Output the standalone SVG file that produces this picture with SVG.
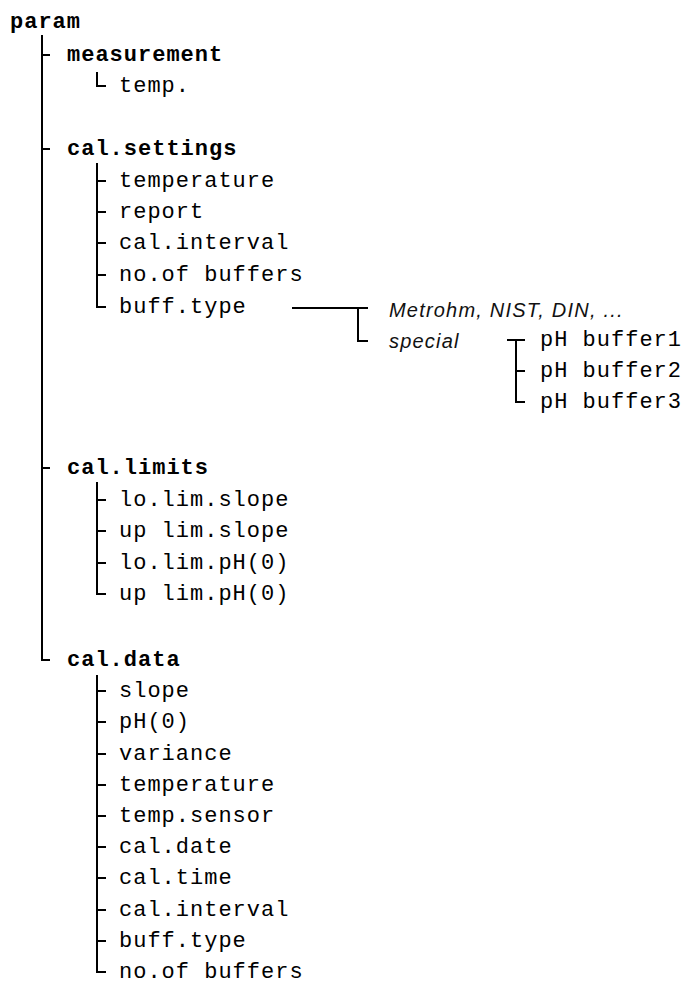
<svg xmlns="http://www.w3.org/2000/svg" width="687" height="990" viewBox="0 0 687 990">
<style>
.t{font-family:"Liberation Mono",monospace;font-size:22px;letter-spacing:1px;fill:#000}
.b{font-weight:bold}
.i{font-family:"Liberation Sans",Arial,sans-serif;font-style:italic;font-size:20px;letter-spacing:1.2px;fill:#111}
.c{stroke:#000;stroke-width:2;fill:none}
</style>
<rect width="687" height="990" fill="#fff"/>
<g id="connectors" class="c">
<path d="M42 35V660H50M42 55H50M42 149H50M42 468H50"/>
<path d="M97 72V86H106"/>
<path d="M97 163V307H106M97 181H106M97 212H106M97 243H106M97 275H106"/>
<path d="M292 308H368M358 308V341H368"/>
<path d="M507 340H525M516 340V402H525M516 371H525"/>
<path d="M97 482V594H106M97 500H106M97 531H106M97 563H106"/>
<path d="M97 675V972H106M97 691H106M97 722H106M97 754H106M97 785H106M97 816H106M97 847H106M97 878H106M97 910H106M97 941H106"/>
</g>
<g id="param"><text class="t b" x="10" y="28">param</text></g>
<g id="measurement"><text class="t b" x="67" y="61">measurement</text></g>
<g id="temp"><text class="t" x="119" y="92">temp.</text></g>
<g id="cal-settings"><text class="t b" x="67" y="155">cal.settings</text></g>
<g id="s-temperature"><text class="t" x="119" y="187">temperature</text></g>
<g id="s-report"><text class="t" x="119" y="218">report</text></g>
<g id="s-cal-interval"><text class="t" x="119" y="249">cal.interval</text></g>
<g id="s-no-of-buffers"><text class="t" x="119" y="281">no.of buffers</text></g>
<g id="s-buff-type"><text class="t" x="119" y="313">buff.type</text></g>
<g id="metrohm"><text class="i" x="389" y="317">Metrohm, NIST, DIN, ...</text></g>
<g id="special"><text class="i" x="389" y="348">special</text></g>
<g id="ph-buffer1"><text class="t" x="540" y="346">pH buffer1</text></g>
<g id="ph-buffer2"><text class="t" x="540" y="377">pH buffer2</text></g>
<g id="ph-buffer3"><text class="t" x="540" y="408">pH buffer3</text></g>
<g id="cal-limits"><text class="t b" x="67" y="474">cal.limits</text></g>
<g id="l-lo-lim-slope"><text class="t" x="119" y="506">lo.lim.slope</text></g>
<g id="l-up-lim-slope"><text class="t" x="119" y="537">up lim.slope</text></g>
<g id="l-lo-lim-ph0"><text class="t" x="119" y="569">lo.lim.pH(0)</text></g>
<g id="l-up-lim-ph0"><text class="t" x="119" y="600">up lim.pH(0)</text></g>
<g id="cal-data"><text class="t b" x="67" y="666">cal.data</text></g>
<g id="d-slope"><text class="t" x="119" y="697">slope</text></g>
<g id="d-ph0"><text class="t" x="119" y="728">pH(0)</text></g>
<g id="d-variance"><text class="t" x="119" y="760">variance</text></g>
<g id="d-temperature"><text class="t" x="119" y="791">temperature</text></g>
<g id="d-temp-sensor"><text class="t" x="119" y="822">temp.sensor</text></g>
<g id="d-cal-date"><text class="t" x="119" y="853">cal.date</text></g>
<g id="d-cal-time"><text class="t" x="119" y="884">cal.time</text></g>
<g id="d-cal-interval"><text class="t" x="119" y="916">cal.interval</text></g>
<g id="d-buff-type"><text class="t" x="119" y="947">buff.type</text></g>
<g id="d-no-of-buffers"><text class="t" x="119" y="978">no.of buffers</text></g>
</svg>
